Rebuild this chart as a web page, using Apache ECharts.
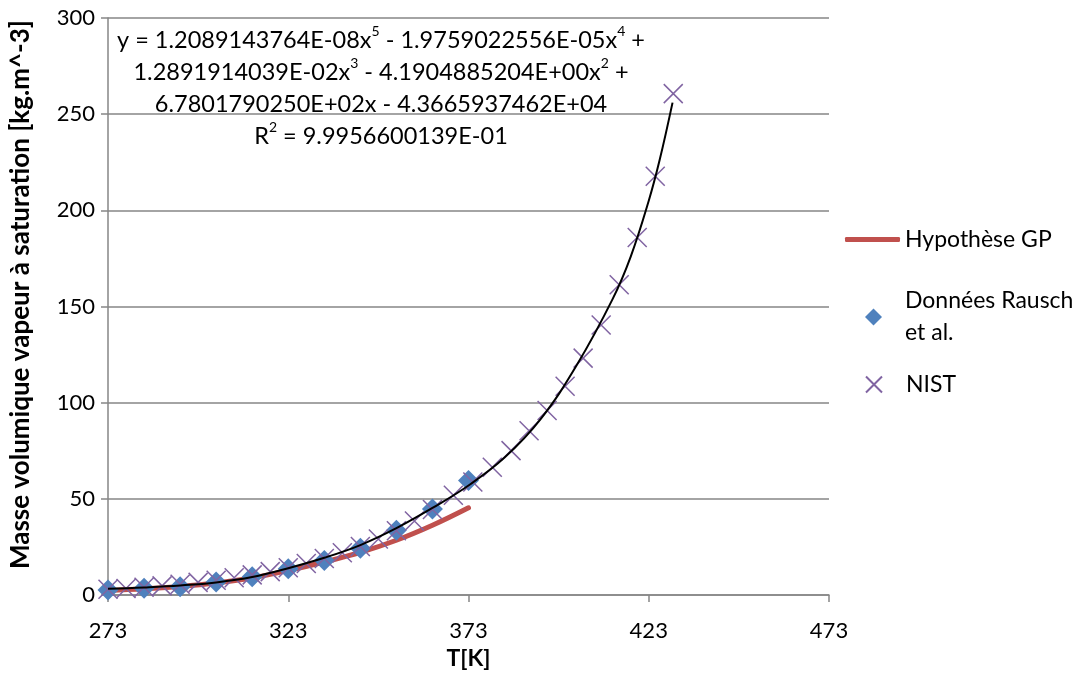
<!DOCTYPE html>
<html><head><meta charset="utf-8">
<script src="https://cdn.jsdelivr.net/npm/echarts@6/dist/echarts.min.js"></script>
<style>html,body{margin:0;padding:0;background:#fff}#c{width:1089px;height:675px}</style>
</head><body><div id="c"></div>
<script>
// ---- data ----
const rauschT   = [273, 283, 293, 303, 313, 323, 333, 343, 353, 363, 373];
const rauschRho = [2.6, 3.5, 4.4, 6.8, 9.5, 13.7, 18.0, 24.3, 33.7, 44.7, 59.6];

const gpT   = [273, 283, 293, 303, 313, 323, 333, 343, 353, 363, 373];
const gpRho = [2.4, 3.3, 4.5, 6.3, 9.0, 12.8, 17.2, 22.2, 28.5, 36.3, 45.4];

const nistT   = [273, 278, 283, 288, 293, 298, 303, 308, 313, 318, 323, 328, 333, 338, 343, 348, 353, 358, 363,
                 368.8, 374.2, 379.6, 384.8, 389.8, 394.8, 399.8, 404.8, 409.8, 414.8, 419.8, 424.8, 429.8];
const nistRho = [3.0, 3.4, 4.1, 4.8, 5.6, 6.6, 7.7, 9.0, 10.5, 12.2, 14.2, 16.4, 19.0, 22.0, 25.3, 29.2, 33.5, 38.5, 44.5,
                 51.9, 58.8, 66.5, 75.1, 85.4, 96.0, 108.6, 123.2, 140.4, 161.3, 185.9, 217.7, 260.7];

const trendT   = [273, 283, 293, 303, 313, 323, 333, 343, 353, 363, 373, 383, 393, 403, 413, 418, 423, 426, 429.6];
const trendRho = [3.3, 4.0, 5.0, 6.6, 9.4, 14.0, 19.4, 26.0, 34.8, 45.3, 57.0, 71.5, 91.5, 119.5, 154, 176, 205, 226, 256];

const xTicks = [273, 323, 373, 423, 473];
const yTicks = [0, 50, 100, 150, 200, 250, 300];

const seriesNames = ['Hypothèse GP', 'Données Rausch et al.', 'NIST'];
const legendLabels = ['Hypothèse GP', 'Données Rausch\net al.', 'NIST'];
const xTitle = 'T[K]';
const yTitle = 'Masse volumique vapeur à saturation [kg.m^-3]';
const eqRich = '{t|y = 1.2089143764E-08x}{s|5}{t| - 1.9759022556E-05x}{s|4}{t| +}\n' +
               '{t|1.2891914039E-02x}{s|3}{t| - 4.1904885204E+00x}{s|2}{t| +}\n' +
               '{t|6.7801790250E+02x - 4.3665937462E+04}\n' +
               '{t|R}{s|2}{t| = 9.9956600139E-01}';

const pair = (a, b) => a.map((v, i) => [v, b[i]]);
const FONT = 'Lato';
const GRAY = '#868686';
const legendText = {fontFamily: FONT, fontSize: 23, color: '#000'};

const chart = echarts.init(document.getElementById('c'), null, {renderer: 'canvas'});
chart.setOption({
  animation: false,
  backgroundColor: '#fff',
  textStyle: {fontFamily: FONT},
  grid: {left: 108, right: 260, top: 18, bottom: 75.5, containLabel: false},
  xAxis: {
    type: 'value', min: xTicks[0], max: xTicks[xTicks.length - 1], interval: 50,
    name: xTitle, nameLocation: 'middle', nameGap: 47,
    nameTextStyle: {fontFamily: FONT, fontSize: 23, fontWeight: 'bold', color: '#000'},
    axisLine: {show: true, lineStyle: {color: GRAY, width: 1.5}},
    axisTick: {show: true, length: 7, lineStyle: {color: GRAY, width: 1.5}, customValues: xTicks},
    axisLabel: {fontFamily: FONT, fontSize: 22, color: '#000', margin: 25, customValues: xTicks},
    splitLine: {show: false}
  },
  yAxis: {
    type: 'value', min: yTicks[0], max: yTicks[yTicks.length - 1], interval: 50,
    name: yTitle, nameLocation: 'middle', nameGap: 74,
    nameTextStyle: {fontFamily: FONT, fontSize: 26, fontWeight: 'bold', color: '#000', padding: [0, 0, 0, 24]},
    axisLine: {show: true, lineStyle: {color: GRAY, width: 1.5}},
    axisTick: {show: true, length: 7, lineStyle: {color: GRAY, width: 1.5}},
    axisLabel: {fontFamily: FONT, fontSize: 22, color: '#000', margin: 13},
    splitLine: {show: true, lineStyle: {color: GRAY, width: 1.5}}
  },
  legend: [
    {data: [{name: seriesNames[0], icon: 'roundRect'}], left: 845, top: 242 - 14, padding: 0, itemWidth: 55, itemHeight: 5,
     formatter: () => legendLabels[0], textStyle: legendText, selectedMode: false},
    {data: [{name: seriesNames[1], icon: 'diamond'}], left: 865, top: 317 - 48, padding: 0, itemWidth: 17, itemHeight: 17,
     formatter: () => legendLabels[1],
     textStyle: Object.assign({}, legendText, {lineHeight: 32, padding: [32, 0, 0, 18]}), selectedMode: false},
    {data: [{name: seriesNames[2], icon: 'path://M0,0L10,10M10,0L0,10'}], left: 865, top: 387 - 14, padding: 0, itemWidth: 16, itemHeight: 16,
     formatter: () => legendLabels[2], textStyle: Object.assign({}, legendText, {padding: [0, 0, 0, 19]}), selectedMode: false}
  ],
  graphic: [{
    type: 'text', x: 381, y: 24, z: 100,
    style: {
      text: eqRich, align: 'center', verticalAlign: 'top',
      rich: {
        t: {fontFamily: FONT, fontSize: 23.5, lineHeight: 32, color: '#000', align: 'center'},
        s: {fontFamily: FONT, fontSize: 14, lineHeight: 20, verticalAlign: 'top', color: '#000', align: 'center'}
      }
    }
  }],
  series: [
    {name: seriesNames[0], type: 'line', data: pair(gpT, gpRho), smooth: 0.4, showSymbol: false, symbol: 'none',
     lineStyle: {color: '#C0504D', width: 5, cap: 'round'}, itemStyle: {color: '#C0504D'}, z: 2},
    {name: seriesNames[1], type: 'scatter', data: pair(rauschT, rauschRho), symbol: 'diamond', symbolSize: 21,
     itemStyle: {color: '#4F81BD', opacity: 1}, z: 3},
    {name: seriesNames[2], type: 'scatter', data: pair(nistT, nistRho), symbol: 'path://M0,0L10,10M10,0L0,10', symbolSize: 19,
     itemStyle: {color: 'rgba(0,0,0,0)', borderColor: '#8064A2', borderWidth: 1.5, opacity: 1}, z: 4},
    {name: 'trend', type: 'line', data: pair(trendT, trendRho), smooth: 0.4, showSymbol: false, symbol: 'none',
     lineStyle: {color: '#000', width: 2}, z: 5, silent: true}
  ]
});
</script></body></html>
